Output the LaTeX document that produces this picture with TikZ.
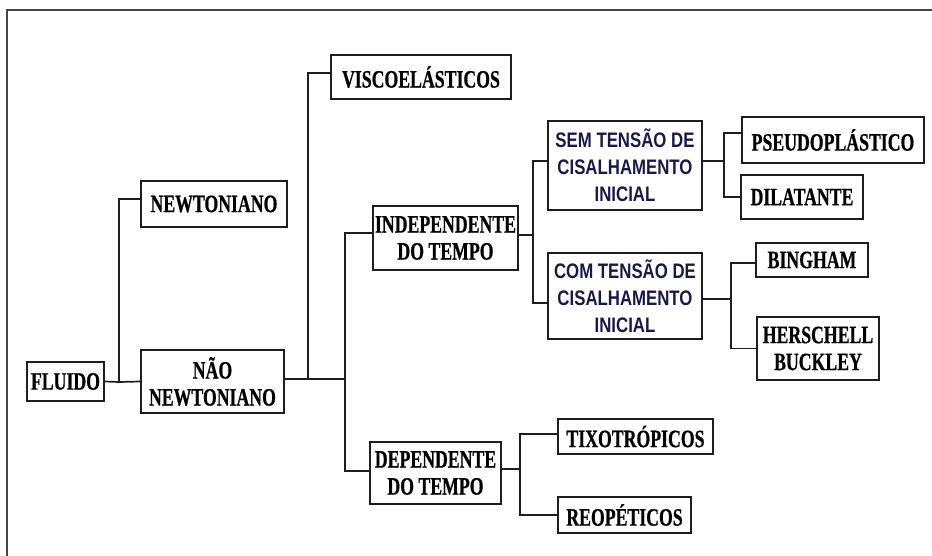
\documentclass[tikz,border=0pt]{standalone}
\usepackage{fontspec}
\setmainfont{Liberation Serif}
\newfontfamily\tnr{Liberation Serif}[FakeStretch=0.71,FakeBold=0.6]
\newfontfamily\arn{Liberation Sans}[FakeStretch=0.80]
\usetikzlibrary{calc}
\definecolor{navytxt}{RGB}{25,25,70}
\definecolor{framegray}{RGB}{70,70,70}
\definecolor{linegray}{RGB}{30,30,30}
\begin{document}
\begin{tikzpicture}[x=1pt,y=-1pt,
  box/.style={draw=linegray, line width=1.7pt, inner sep=0pt, align=center,
    font=\tnr\bfseries\fontsize{25}{27}\selectfont},
  sbox/.style={box, font=\arn\bfseries\fontsize{21}{27}\selectfont, text=navytxt},
  conn/.style={draw=linegray, line width=1.7pt}]
\useasboundingbox (0,0) rectangle (932,556);
\fill[white] (0,0) rectangle (932,556);
\draw[framegray, line width=2pt] (7,556) -- (7,10) -- (932,10);

\node[box, minimum width=77pt, minimum height=39pt] (fluido) at (65.5,381.5) {FLUIDO};
\node[box, minimum width=146pt, minimum height=46pt] (newt) at (214,204) {NEWTONIANO};
\node[box, minimum width=143pt, minimum height=63pt] (nao) at (212.5,381.5) {NÃO\\NEWTONIANO};
\node[box, minimum width=180pt, minimum height=44pt] (visco) at (421,77) {VISCOELÁSTICOS};
\node[box, minimum width=145pt, minimum height=64pt] (indep) at (445.5,238) {INDEPENDENTE\\DO TEMPO};
\node[box, minimum width=131pt, minimum height=62pt] (dep) at (435.5,473) {DEPENDENTE\\DO TEMPO};
\node[sbox, minimum width=154pt, minimum height=89pt] (sem) at (625,165.5) {SEM TENSÃO DE\\CISALHAMENTO\\INICIAL};
\node[sbox, minimum width=154pt, minimum height=86pt] (com) at (625,296) {COM TENSÃO DE\\CISALHAMENTO\\INICIAL};
\node[box, minimum width=182pt, minimum height=46pt] (pseudo) at (833,140) {PSEUDOPLÁSTICO};
\node[box, minimum width=122pt, minimum height=44pt] (dilat) at (802,197) {DILATANTE};
\node[box, minimum width=112pt, minimum height=34pt] (bing) at (812,260) {BINGHAM};
\node[box, minimum width=122pt, minimum height=63pt] (hers) at (818,348.5) {HERSCHELL\\BUCKLEY};
\node[box, minimum width=155pt, minimum height=35pt] (tixo) at (635.5,436.5) {TIXOTRÓPICOS};
\node[box, minimum width=133pt, minimum height=36pt] (reop) at (624.5,515) {REOPÉTICOS};

% junctions
\coordinate (j1) at (119,382);
\coordinate (j2) at (308,379);
\coordinate (j3) at (345,379);
\coordinate (j4) at (533,235);
\coordinate (j5) at (724,161);
\coordinate (j6) at (731,299);
\coordinate (j7) at (520,469);

\draw[conn] (fluido.east) -- (j1) -- (nao.west);
\draw[conn] (j1) |- ($(newt.west)+(0,-5)$);
\draw[conn] (nao.east |- j2) -- (j3);
\draw[conn] (j2) |- ($(visco.west)+(0,-4)$);
\draw[conn] ($(indep.west)+(0,-5)$) -| (j3) |- ($(dep.west)+(0,-2)$);
\draw[conn] ($(indep.east)+(0,-3)$) -- (j4);
\draw[conn] ($(sem.west)+(0,-4.5)$) -| (j4) |- ($(com.west)+(0,7)$);
\draw[conn] ($(sem.east)+(0,-4.5)$) -- (j5);
\draw[conn] ($(pseudo.west)+(0,-7)$) -| (j5) |- (dilat.west);
\draw[conn] ($(com.east)+(0,3)$) -- (j6);
\draw[conn] ($(bing.west)+(0,3)$) -| (j6) |- (hers.west);
\draw[conn] ($(dep.east)+(0,-4)$) -- (j7);
\draw[conn] ($(tixo.west)+(0,-2.5)$) -| (j7) |- (reop.west);
\end{tikzpicture}
\end{document}
